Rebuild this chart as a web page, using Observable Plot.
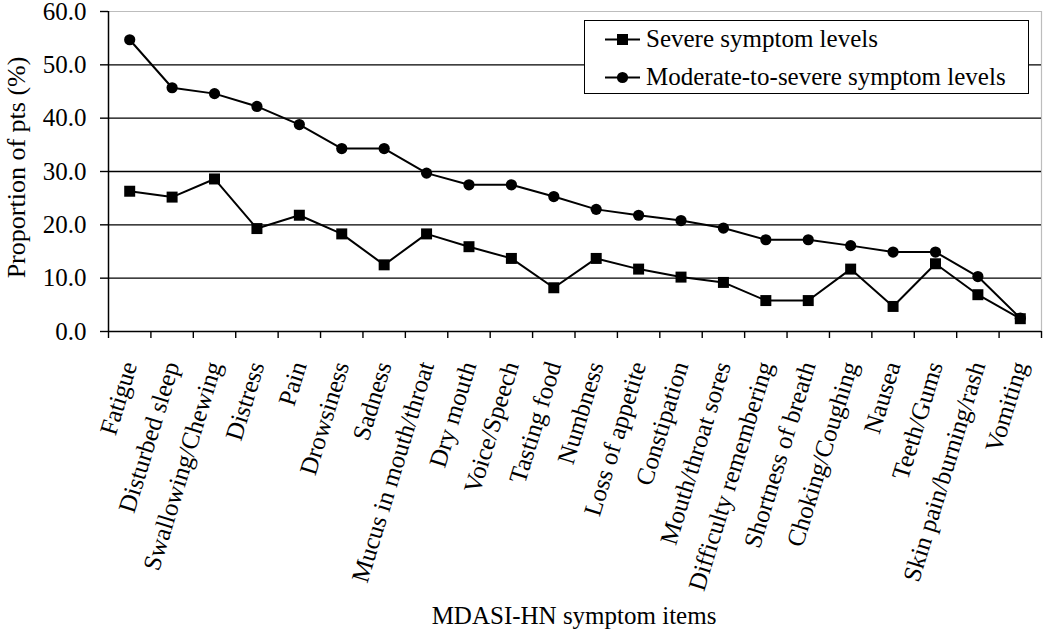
<!DOCTYPE html>
<html>
<head>
<meta charset="utf-8">
<script src="https://cdn.jsdelivr.net/npm/d3@7"></script>
<script src="https://cdn.jsdelivr.net/npm/@observablehq/plot@0.6"></script>
<style>
  html, body { margin: 0; padding: 0; background: #fff; }
  #wrap { position: relative; width: 1050px; height: 637px; }
  #wrap svg text { font-family: "Liberation Serif", "Times New Roman", serif; }
  #legend {
    position: absolute; left: 584px; top: 20px; width: 443px; height: 72px;
    border: 1.5px solid #000; background: #fff;
    font-family: "Liberation Serif", "Times New Roman", serif; font-size: 25px; color: #000;
  }
  .row { position: absolute; left: 20px; height: 30px; display: flex; align-items: center; }
  .row svg { margin-right: 6px; }
</style>
</head>
<body>
<div id="wrap"></div>
<script>
const categories = [
  "Fatigue", "Disturbed sleep", "Swallowing/Chewing", "Distress", "Pain",
  "Drowsiness", "Sadness", "Mucus in mouth/throat", "Dry mouth", "Voice/Speech",
  "Tasting food", "Numbness", "Loss of appetite", "Constipation", "Mouth/throat sores",
  "Difficulty remembering", "Shortness of breath", "Choking/Coughing", "Nausea",
  "Teeth/Gums", "Skin pain/burning/rash", "Vomiting"
];
const severe = [26.3, 25.2, 28.6, 19.3, 21.8, 18.3, 12.5, 18.3, 15.9, 13.7, 8.2,
  13.7, 11.7, 10.2, 9.2, 5.8, 5.8, 11.7, 4.7, 12.7, 6.9, 2.4];
const moderate = [54.7, 45.7, 44.6, 42.2, 38.8, 34.3, 34.3, 29.7, 27.5, 27.5, 25.3,
  22.9, 21.8, 20.8, 19.4, 17.2, 17.2, 16.1, 14.9, 14.9, 10.3, 2.5];
const seriesNames = ["Severe symptom levels", "Moderate-to-severe symptom levels"];
const yTicks = [0, 10, 20, 30, 40, 50, 60];
const gridValues = [10, 20, 30, 40, 50];
const xTitle = "MDASI-HN symptom items";
const yTitle = "Proportion of pts (%)";

const severeData = categories.map((c, i) => ({cat: c, pos: i + 0.5, value: severe[i], series: seriesNames[0]}));
const moderateData = categories.map((c, i) => ({cat: c, pos: i + 0.5, value: moderate[i], series: seriesNames[1]}));
const n = categories.length;
const serif = "'Liberation Serif', 'Times New Roman', serif";

const chart = Plot.plot({
  width: 1050,
  height: 637,
  marginLeft: 108,
  marginRight: 9,
  marginTop: 11,
  marginBottom: 306,
  x: {domain: [0, n]},
  y: {domain: [0, 60]},
  style: {fontFamily: serif, fontSize: "25px", color: "#000", background: "#fff"},
  marks: [
    Plot.ruleY([60], {stroke: "#bdbdbd", strokeWidth: 1.2}),
    Plot.ruleX([n], {stroke: "#bdbdbd", strokeWidth: 1.2}),
    Plot.ruleY(gridValues, {stroke: "#000", strokeWidth: 1.4}),
    Plot.axisY(yTicks, {tickSize: 8, tickPadding: 14, tickFormat: d => d.toFixed(1), label: null, fontSize: 25, strokeWidth: 1.4}),
    Plot.axisX(d3.range(n + 1), {tickSize: 7, tickFormat: () => "", label: null, strokeWidth: 1.4}),
    Plot.axisX(categories.map((_, i) => i + 0.5), {tickSize: 0, tickPadding: 31, tickRotate: -73,
      tickFormat: v => categories[Math.floor(v)], label: null, fontSize: 25}),
    Plot.ruleX([0], {stroke: "#000", strokeWidth: 1.5}),
    Plot.ruleY([0], {stroke: "#000", strokeWidth: 1.5}),
    Plot.line(severeData, {x: "pos", y: "value", stroke: "#000", strokeWidth: 2}),
    Plot.line(moderateData, {x: "pos", y: "value", stroke: "#000", strokeWidth: 2}),
    Plot.dot(severeData, {x: "pos", y: "value", symbol: "square", r: 6.2, fill: "#000", stroke: "none"}),
    Plot.dot(moderateData, {x: "pos", y: "value", symbol: "circle", r: 5.6, fill: "#000", stroke: "none"}),
    Plot.text([xTitle], {text: d => d, frameAnchor: "bottom", textAnchor: "middle", dy: 292, dx: -1, fontSize: 25}),
    Plot.text([yTitle], {text: d => d, frameAnchor: "left", textAnchor: "middle", rotate: -90, dx: -92, dy: -4, fontSize: 26})
  ]
});

const wrap = document.getElementById("wrap");
wrap.appendChild(chart);

const legend = document.createElement("div");
legend.id = "legend";
const symbols = ["square", "circle"];
seriesNames.forEach((name, k) => {
  const row = document.createElement("div");
  row.className = "row";
  row.style.top = (k === 0 ? 3 : 41) + "px";
  const sym = symbols[k] === "square"
    ? '<rect x="12" y="6" width="11" height="11" fill="#000"/>'
    : '<circle cx="17.5" cy="11.5" r="5.6" fill="#000"/>';
  row.innerHTML = '<svg width="35" height="23"><line x1="0" x2="35" y1="11.5" y2="11.5" stroke="#000" stroke-width="2"/>' + sym + '</svg><span>' + name + '</span>';
  legend.appendChild(row);
});
wrap.appendChild(legend);
</script>
</body>
</html>
